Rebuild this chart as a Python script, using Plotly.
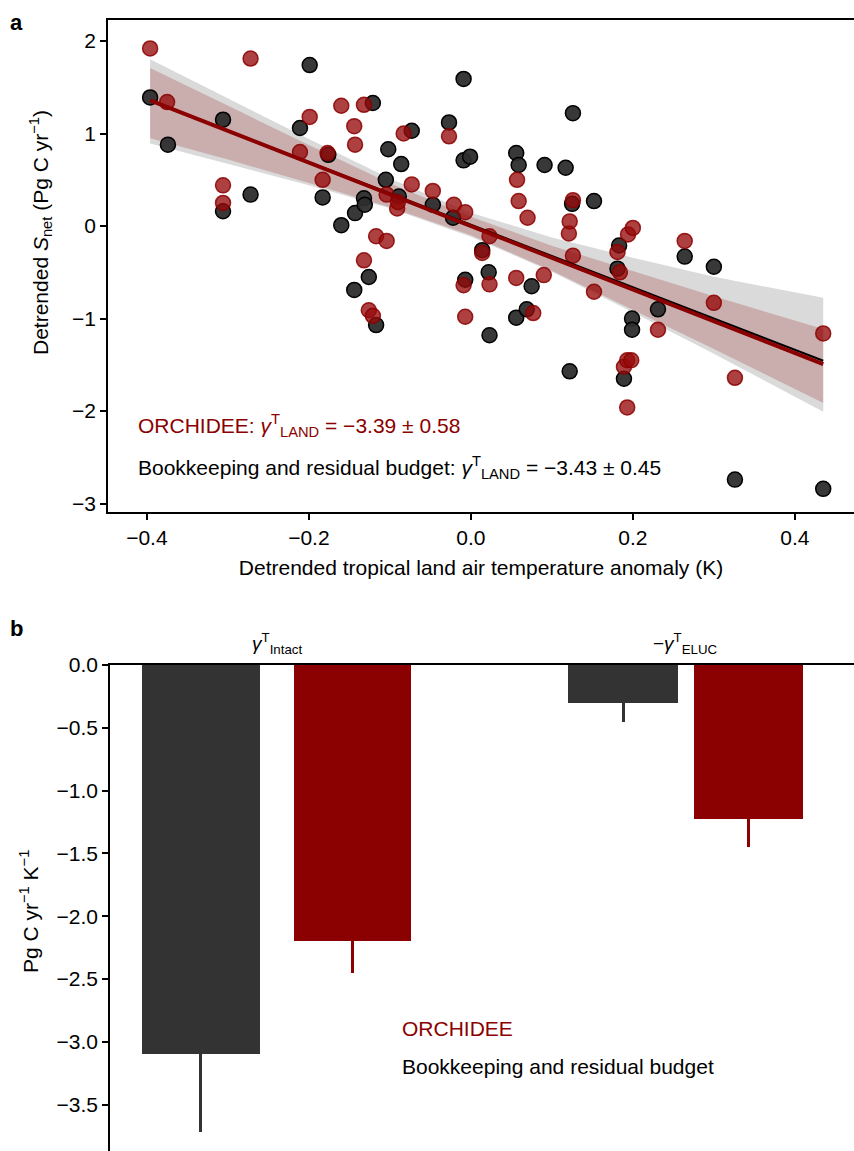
import plotly.graph_objects as go
import numpy as np

# ---------------- Panel a data ----------------
red_x = [-0.396, -0.375, -0.306, -0.306, -0.272, -0.211, -0.199, -0.183, -0.177, -0.160,
         -0.144, -0.143, -0.132, -0.132, -0.126, -0.121, -0.117, -0.104, -0.104, -0.091,
         -0.090, -0.083, -0.073, -0.047, -0.027, -0.021, -0.009, -0.007, -0.007, 0.014,
         0.023, 0.023, 0.057, 0.059, 0.056, 0.070, 0.077, 0.090, 0.121, 0.122,
         0.126, 0.126, 0.152, 0.181, 0.184, 0.189, 0.193, 0.193, 0.198, 0.194,
         0.200, 0.231, 0.264, 0.300, 0.326, 0.435]
red_y = [1.92, 1.34, 0.44, 0.25, 1.81, 0.80, 1.18, 0.50, 0.79, 1.30,
         1.08, 0.88, 1.31, -0.37, -0.91, -0.97, -0.11, -0.16, 0.34, 0.19,
         0.26, 1.00, 0.45, 0.38, 0.97, 0.23, -0.64, -0.98, 0.15, -0.29,
         -0.63, -0.11, 0.50, 0.27, -0.56, 0.09, -0.94, -0.53, -0.08, 0.05,
         0.28, -0.32, -0.71, -0.28, -0.50, -1.52, -1.45, -1.96, -1.45, -0.09,
         -0.02, -1.12, -0.16, -0.83, -1.64, -1.16]

blk_x = [-0.396, -0.374, -0.306, -0.306, -0.272, -0.211, -0.199, -0.183, -0.176, -0.160,
         -0.144, -0.143, -0.132, -0.131, -0.126, -0.121, -0.117, -0.105, -0.102, -0.089,
         -0.086, -0.073, -0.047, -0.027, -0.022, -0.009, -0.009, -0.007, -0.001, 0.014,
         0.022, 0.023, 0.056, 0.059, 0.056, 0.069, 0.075, 0.091, 0.117, 0.126,
         0.125, 0.122, 0.152, 0.181, 0.183, 0.189, 0.199, 0.199, 0.231, 0.264,
         0.300, 0.326, 0.435]
blk_y = [1.39, 0.88, 1.15, 0.16, 0.34, 1.06, 1.74, 0.31, 0.77, 0.01,
         -0.69, 0.14, 0.30, 0.23, -0.55, 1.33, -1.07, 0.50, 0.83, 0.32,
         0.67, 1.03, 0.23, 1.12, 0.09, 0.71, 1.59, -0.58, 0.75, -0.26,
         -0.50, -1.18, 0.79, 0.66, -0.99, -0.90, -0.65, 0.66, 0.63, 1.22,
         0.24, -1.57, 0.27, -0.46, -0.21, -1.65, -1.00, -1.12, -0.90, -0.33,
         -0.44, -2.74, -2.84]

# regression fits (slope, intercept)
red_fit = [-3.43, 0.0]
blk_fit = [-3.38, 0.015]

# confidence bands: knots and half-widths above / below the fitted line
band_x = [-0.396, -0.3, -0.2, -0.1, 0.0, 0.1, 0.2, 0.3, 0.435]
gray_up = [0.45, 0.35, 0.25, 0.16, 0.13, 0.20, 0.32, 0.45, 0.68]
gray_lo = [0.46, 0.36, 0.25, 0.16, 0.13, 0.17, 0.27, 0.38, 0.55]
red_up = [0.35, 0.27, 0.19, 0.12, 0.10, 0.13, 0.20, 0.27, 0.38]
red_lo = [0.41, 0.31, 0.22, 0.14, 0.10, 0.14, 0.22, 0.30, 0.42]

# ---------------- Panel b data ----------------
bar_vals = [-3.10, -2.20, -0.30, -1.23]
bar_err = [0.62, 0.25, 0.15, 0.22]
bar_src = ["Bookkeeping", "ORCHIDEE", "Bookkeeping", "ORCHIDEE"]
group_labels = ["<i>γ</i><sup>T</sup><sub>Intact</sub>", "−<i>γ</i><sup>T</sup><sub>ELUC</sub>"]

# layout constants
bar_pos = [0.61, 1.63, 3.45, 4.29]
bar_wid = [0.79, 0.79, 0.74, 0.73]
group_pos = [1.12, 3.87]

DARKRED = "#8b0000"
FONT = "Liberation Sans, Arial, Helvetica, sans-serif"
FS = 21
W, H = 854, 1151

fig = go.Figure()

bx = np.array(band_x)
def line_at(fit, x):
    return fit[0] * np.asarray(x) + fit[1]

gl = line_at(blk_fit, bx)
fig.add_trace(go.Scatter(x=list(bx) + list(bx[::-1]),
                         y=list(gl + np.array(gray_up)) + list((gl - np.array(gray_lo))[::-1]),
                         fill="toself", fillcolor="rgba(205,205,205,0.75)", line=dict(width=0),
                         mode="lines", hoverinfo="skip", showlegend=False, xaxis="x", yaxis="y"))
rl = line_at(red_fit, bx)
fig.add_trace(go.Scatter(x=list(bx) + list(bx[::-1]),
                         y=list(rl + np.array(red_up)) + list((rl - np.array(red_lo))[::-1]),
                         fill="toself", fillcolor="rgba(139,0,0,0.2)", line=dict(width=0),
                         mode="lines", hoverinfo="skip", showlegend=False, xaxis="x", yaxis="y"))

fig.add_trace(go.Scatter(x=blk_x, y=blk_y, mode="markers",
                         marker=dict(size=15, color="rgba(45,45,45,0.95)",
                                     line=dict(color="black", width=1.5)),
                         showlegend=False, xaxis="x", yaxis="y"))
fig.add_trace(go.Scatter(x=red_x, y=red_y, mode="markers",
                         marker=dict(size=15, color="rgba(150,10,10,0.78)",
                                     line=dict(color="rgba(139,0,0,0.85)", width=1.5)),
                         showlegend=False, xaxis="x", yaxis="y"))

ends = np.array([band_x[0], band_x[-1]])
fig.add_trace(go.Scatter(x=ends, y=line_at(blk_fit, ends), mode="lines",
                         line=dict(color="black", width=2), showlegend=False, xaxis="x", yaxis="y"))
fig.add_trace(go.Scatter(x=ends, y=line_at(red_fit, ends), mode="lines",
                         line=dict(color=DARKRED, width=4), showlegend=False, xaxis="x", yaxis="y"))

for v, e, s, p, w in zip(bar_vals, bar_err, bar_src, bar_pos, bar_wid):
    col = DARKRED if s == "ORCHIDEE" else "#333333"
    fig.add_trace(go.Bar(x=[p], y=[v], width=[w], marker=dict(color=col, line=dict(width=0)),
                         error_y=dict(type="data", symmetric=False, array=[0], arrayminus=[e],
                                      color=col, thickness=3, width=0),
                         showlegend=False, xaxis="x2", yaxis="y2"))

ax_common = dict(showgrid=False, zeroline=False, linecolor="black", linewidth=1.5,
                 ticks="outside", ticklen=6, tickwidth=1.5, tickcolor="black",
                 automargin=False,
                 tickfont=dict(family=FONT, size=FS, color="black"))

fig.update_layout(
    template="none",
    width=W, height=H, margin=dict(l=0, r=0, t=0, b=0),
    paper_bgcolor="white", plot_bgcolor="white",
    font=dict(family=FONT, size=FS, color="black"),
    xaxis=dict(domain=[108 / W, 1.0], range=[-0.448, 0.473], anchor="y",
               tickvals=[-0.4, -0.2, 0.0, 0.2, 0.4],
               ticktext=["−0.4", "−0.2", "0.0", "0.2", "0.4"],
               showline=True, mirror=True,
               title=dict(text="Detrended tropical land air temperature anomaly (K)",
                          font=dict(family=FONT, size=FS), standoff=12),
               **ax_common),
    yaxis=dict(domain=[1 - 512 / H, 1 - 20 / H], range=[-3.09, 2.227], anchor="x",
               tickvals=[-3, -2, -1, 0, 1, 2],
               ticktext=["−3", "−2", "−1", "0", "1", "2"],
               showline=True, **ax_common),
    xaxis2=dict(domain=[110 / W, 1.0], range=[0, 5], anchor="y2", side="top",
                showline=True, showticklabels=False, ticks="", showgrid=False,
                zeroline=False, linecolor="black", linewidth=1.5, automargin=False),
    yaxis2=dict(domain=[0, 1 - 665 / H], range=[-3.87, 0], anchor="x2",
                tickvals=[0, -0.5, -1, -1.5, -2, -2.5, -3, -3.5],
                ticktext=["0.0", "−0.5", "−1.0", "−1.5", "−2.0", "−2.5", "−3.0", "−3.5"],
                showline=True, **ax_common),
    bargap=0,
)

ann = []
ann.append(dict(text="<b>a</b>", x=8 / W, y=1 - 22 / H, xref="paper", yref="paper",
                xanchor="left", yanchor="middle", showarrow=False,
                font=dict(family=FONT, size=22, color="black")))
ann.append(dict(text="<b>b</b>", x=8 / W, y=1 - 628 / H, xref="paper", yref="paper",
                xanchor="left", yanchor="middle", showarrow=False,
                font=dict(family=FONT, size=22, color="black")))
ann.append(dict(text="Detrended <i>S</i><sub>net</sub> (Pg C yr<sup>−1</sup>)",
                x=40 / W, y=1 - 233 / H, xref="paper", yref="paper", textangle=-90,
                xanchor="center", yanchor="middle", showarrow=False,
                font=dict(family=FONT, size=FS, color="black")))
ann.append(dict(text="Pg C yr<sup>−1</sup> K<sup>−1</sup>",
                x=29 / W, y=1 - 912 / H, xref="paper", yref="paper", textangle=-90,
                xanchor="center", yanchor="middle", showarrow=False,
                font=dict(family=FONT, size=FS, color="black")))
ann.append(dict(text="ORCHIDEE: <i>γ</i><sup>T</sup><sub>LAND</sub> = −3.39 ± 0.58",
                x=136 / W, y=1 - 425 / H, xref="paper", yref="paper",
                xanchor="left", yanchor="middle", showarrow=False,
                font=dict(family=FONT, size=FS, color=DARKRED)))
ann.append(dict(text="Bookkeeping and residual budget: <i>γ</i><sup>T</sup><sub>LAND</sub> = −3.43 ± 0.45",
                x=136 / W, y=1 - 468 / H, xref="paper", yref="paper",
                xanchor="left", yanchor="middle", showarrow=False,
                font=dict(family=FONT, size=FS, color="black")))
for lab, gp in zip(group_labels, group_pos):
    ann.append(dict(text=lab, x=gp, y=0, xref="x2", yref="y2", yshift=6,
                    xanchor="center", yanchor="bottom", showarrow=False,
                    font=dict(family=FONT, size=19, color="black")))
ann.append(dict(text="ORCHIDEE", x=400 / W, y=1 - 1028 / H, xref="paper", yref="paper",
                xanchor="left", yanchor="middle", showarrow=False,
                font=dict(family=FONT, size=FS, color=DARKRED)))
ann.append(dict(text="Bookkeeping and residual budget", x=400 / W, y=1 - 1066 / H,
                xref="paper", yref="paper", xanchor="left", yanchor="middle", showarrow=False,
                font=dict(family=FONT, size=FS, color="black")))
fig.update_layout(annotations=ann)

fig.write_html("out.html", config={"displayModeBar": False},
               post_script="document.body.style.margin='0px';")
